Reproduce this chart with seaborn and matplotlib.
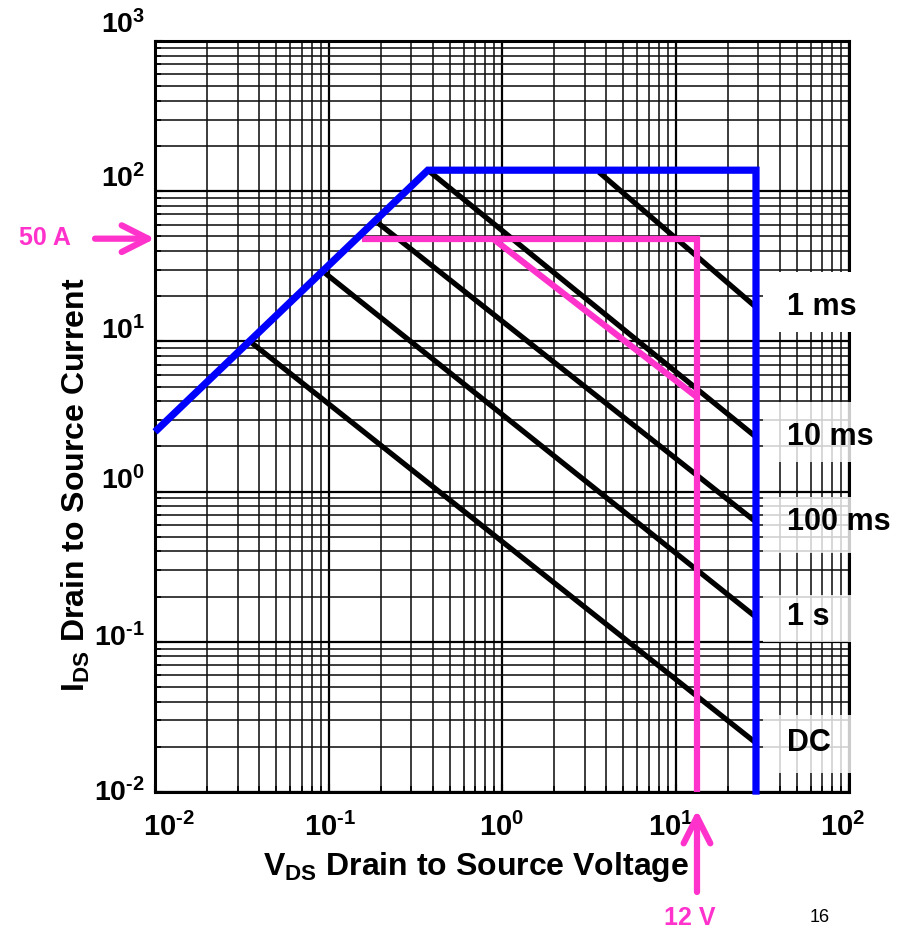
import matplotlib
matplotlib.use("Agg")
import matplotlib.pyplot as plt
import matplotlib.transforms as mtransforms
from matplotlib.patches import Rectangle
from matplotlib.ticker import LogLocator, NullFormatter
import seaborn as sns

# ---------------- data ----------------
# Safe-operating-area boundary (blue): Rds(on) limit, current limit, voltage limit
blue_v = [0.01, 0.374, 29.1, 29.1]
blue_i = [2.5, 138.0, 138.0, 0.0096]

# Application limit (pink)
pink_box_v = [0.156, 13.3, 13.3]
pink_box_i = [48.3, 48.3, 0.01]
pink_diag_v = [0.887, 13.3]
pink_diag_i = [48.3, 4.26]

# Pulse-width limit lines (black)
pulse_names = ["1 ms", "10 ms", "100 ms", "1 s", "DC"]
pulse_v_start = [3.62, 0.374, 0.193, 0.0955, 0.0362]
pulse_i_start = [134.0, 138.0, 61.4, 28.5, 9.75]
pulse_v_end = [29.1, 29.1, 29.1, 29.1, 29.1]
pulse_i_end = [16.9, 2.31, 0.628, 0.146, 0.0212]

# label boxes (current range in A) behind the pulse labels
box_i_top = [28.9, 3.95, 0.92, 0.205, 0.0326]
box_i_bot = [11.6, 1.57, 0.39, 0.0998, 0.0134]
box_alpha = [1.0, 0.8, 0.8, 0.8, 0.8]

HY = "\u2010"
x_ticks = [1e-2, 1e-1, 1e0, 1e1, 1e2]
x_tick_labels = [r"$\mathbf{10^{%s2}}$" % HY, r"$\mathbf{10^{%s1}}$" % HY,
                 r"$\mathbf{10^{0}}$", r"$\mathbf{10^{1}}$", r"$\mathbf{10^{2}}$"]
y_ticks = [1e-2, 1e-1, 1e0, 1e1, 1e2, 1e3]
y_tick_labels = [r"$\mathbf{10^{%s2}}$" % HY, r"$\mathbf{10^{%s1}}$" % HY,
                 r"$\mathbf{10^{0}}$", r"$\mathbf{10^{1}}$", r"$\mathbf{10^{2}}$",
                 r"$\mathbf{10^{3}}$"]

PINK = "#FF33CC"
BLUE = "#0000FF"

# ---------------- style ----------------
sns.set_theme(style="white")
plt.rcParams["font.family"] = ["Liberation Sans", "DejaVu Sans"]
plt.rcParams["mathtext.fontset"] = "custom"
plt.rcParams["mathtext.rm"] = "Liberation Sans"
plt.rcParams["mathtext.bf"] = "Liberation Sans:bold"
plt.rcParams["mathtext.it"] = "Liberation Sans:italic"
plt.rcParams["mathtext.fallback"] = "cm"

fig = plt.figure(figsize=(8.98, 9.30), dpi=100)
ax = fig.add_axes([155 / 898, 138 / 930, 694 / 898, 751 / 930])
ax.set_xscale("log")
ax.set_yscale("log")
ax.set_xlim(1e-2, 1e2)
ax.set_ylim(1e-2, 1e3)
ax.set_axisbelow(True)

# grid
ax.xaxis.set_minor_locator(LogLocator(base=10, subs=range(2, 10), numticks=20))
ax.yaxis.set_minor_locator(LogLocator(base=10, subs=range(2, 10), numticks=20))
ax.xaxis.set_minor_formatter(NullFormatter())
ax.yaxis.set_minor_formatter(NullFormatter())
ax.grid(True, which="major", color="black", lw=1.6)
ax.grid(True, which="minor", color="#111111", lw=1.15)
for s in ax.spines.values():
    s.set_color("black")
    s.set_linewidth(2.2)
ax.tick_params(which="both", direction="in", colors="black", top=False, right=False,
               bottom=True, left=True)
ax.tick_params(which="major", length=6, width=1.5)
ax.tick_params(which="minor", length=4, width=1.2)

# ---------------- lines ----------------
for vs, is_, ve, ie in zip(pulse_v_start, pulse_i_start, pulse_v_end, pulse_i_end):
    sns.lineplot(x=[vs, ve], y=[is_, ie], ax=ax, color="black", lw=3.8,
                 estimator=None, sort=False, zorder=3, solid_capstyle="butt")

sns.lineplot(x=pink_box_v, y=pink_box_i, ax=ax, color=PINK, lw=4.5,
             estimator=None, sort=False, zorder=4, solid_capstyle="butt",
             solid_joinstyle="miter", clip_on=False)
sns.lineplot(x=pink_diag_v, y=pink_diag_i, ax=ax, color=PINK, lw=4.5,
             estimator=None, sort=False, zorder=4, solid_capstyle="butt")
sns.lineplot(x=blue_v, y=blue_i, ax=ax, color=BLUE, lw=5.2,
             estimator=None, sort=False, zorder=5, solid_capstyle="butt",
             solid_joinstyle="miter", clip_on=False)

# ---------------- pulse labels with boxes ----------------
blend = mtransforms.blended_transform_factory(ax.transAxes, ax.transData)
for name, it, ib, al, ie in zip(pulse_names, box_i_top, box_i_bot, box_alpha, pulse_i_end):
    ax.add_patch(Rectangle((0.876, ib), 0.13, it - ib, transform=blend,
                           facecolor="white", edgecolor="none", alpha=al,
                           zorder=6, clip_on=False))
    ax.text(0.911, ie, name, transform=blend, ha="left", va="center",
            fontsize=22, fontweight="bold", color="black", zorder=7, clip_on=False)

# ---------------- ticks ----------------
ax.set_xticks(x_ticks)
ax.set_xticklabels(x_tick_labels, fontsize=21)
ax.set_yticks(y_ticks)
ax.set_yticklabels(y_tick_labels, fontsize=20.5)
ax.tick_params(axis="x", which="major", pad=15)
ax.tick_params(axis="y", which="major", pad=7)

x_off = [14, 2, 0, -5, -6]
for lab, dx in zip(ax.get_xticklabels(), x_off):
    lab.set_transform(lab.get_transform() +
                      mtransforms.ScaledTranslation(dx / 100, 0, fig.dpi_scale_trans))
y_off = [2, 7, 14, 14, 16, 19]
for lab, dy in zip(ax.get_yticklabels(), y_off):
    lab.set_transform(lab.get_transform() +
                      mtransforms.ScaledTranslation(0, dy / 100, fig.dpi_scale_trans))

# ---------------- axis labels ----------------
ax.set_xlabel(r"$\mathbf{V_{DS}}$ Drain to Source Voltage", fontsize=23,
              fontweight="bold", color="black")
ax.xaxis.set_label_coords((476 - 155) / 694, (792 - 850) / 751)
ax.set_ylabel(r"$\mathbf{I_{DS}}$ Drain to Source Current", fontsize=23,
              fontweight="bold", color="black")
ax.yaxis.set_label_coords((92 - 155) / 694, (792 - 485) / 751)

# ---------------- annotations ----------------
arrow_kw = dict(arrowstyle="->,head_length=0.95,head_width=0.48", color=PINK,
                lw=4.5, shrinkA=0, shrinkB=0, mutation_scale=20)
ax.annotate("", xy=(0.01, 48.3), xycoords="data",
            xytext=(-60, 0), textcoords="offset pixels",
            arrowprops=arrow_kw, annotation_clip=False)
fig.text(45 / 898, 1 - 238 / 930, "50 A", color=PINK, fontsize=18,
         fontweight="bold", ha="center", va="center")

tip_tr = ax.transData + mtransforms.ScaledTranslation(0, -18 / 100, fig.dpi_scale_trans)
ax.annotate("", xy=(13.3, 0.01), xycoords=tip_tr,
            xytext=(0, -82), textcoords="offset pixels",
            arrowprops=arrow_kw, annotation_clip=False)
fig.text(690 / 898, 1 - 918 / 930, "12 V", color=PINK, fontsize=18,
         fontweight="bold", ha="center", va="center")
fig.text(820 / 898, 1 - 917 / 930, "16", color="black", fontsize=13,
         ha="center", va="center")

fig.savefig("out.png", dpi=100)
